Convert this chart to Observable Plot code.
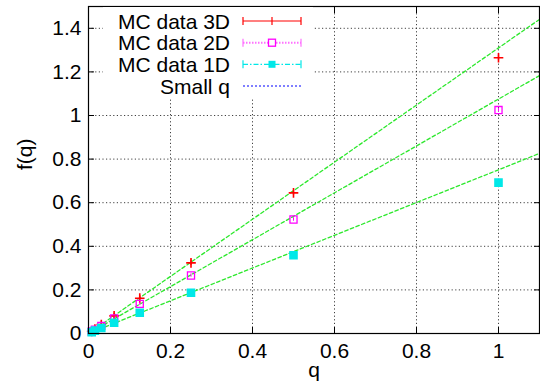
<!DOCTYPE html>
<html><head><meta charset="utf-8">
<script src="https://cdn.jsdelivr.net/npm/d3@7"></script>
<script src="https://cdn.jsdelivr.net/npm/@observablehq/plot@0.6"></script>
<style>body{margin:0;background:#fff}</style>
</head><body><div id="chart"></div>
<script>
// ---- data ----
const qValues = [1, 0.5, 0.25, 0.125, 0.0625, 0.03125, 0.015625, 0.0078125];
const f3D = [1.265, 0.645, 0.324, 0.162, 0.081, 0.041, 0.020, 0.010];
const f2D = [1.025, 0.523, 0.266, 0.136, 0.069, 0.035, 0.018, 0.009];
const f1D = [0.692, 0.359, 0.187, 0.095, 0.049, 0.025, 0.013, 0.006];
// small-q straight lines (endpoints)
const lineQ = [0, 1.1];
const small3D = [0, 1.441];
const small2D = [0, 1.183];
const small1D = [0, 0.826];
const xTicks = [0, 0.2, 0.4, 0.6, 0.8, 1];
const yTicks = [0, 0.2, 0.4, 0.6, 0.8, 1, 1.2, 1.4];
const seriesNames = ["MC data 3D", "MC data 2D", "MC data 1D", "Small q"];
const seriesColors = ["#ff0000", "#ff00ff", "#00e8e8", "#0000ff"];
const fitColor = "#2de82d";

const pts3 = qValues.map((q, i) => ({q, f: f3D[i]}));
const pts2 = qValues.map((q, i) => ({q, f: f2D[i]}));
const pts1 = qValues.map((q, i) => ({q, f: f1D[i]}));
const fitLines = [small3D, small2D, small1D].flatMap((vals, k) =>
  lineQ.map((q, i) => ({k, q, f: vals[i]})));

const FONT = "'Liberation Sans', Arial, Helvetica, sans-serif";
const FS = 21;
const grid = {stroke: "#000", strokeOpacity: 0.75, strokeDasharray: "1.2,2.4", strokeWidth: 1};
const noText = () => "";

const plot = Plot.plot({
  width: 540, height: 392,
  marginLeft: 88, marginRight: 1, marginTop: 6, marginBottom: 59,
  style: {fontFamily: FONT, fontSize: FS + "px", background: "#fff", color: "#000"},
  x: {domain: [0, 1.1]},
  y: {domain: [0, 1.5]},
  marks: [
    Plot.gridX({ticks: xTicks, ...grid}),
    Plot.gridY({ticks: yTicks, ...grid}),
    Plot.axisX({ticks: xTicks, tickSize: 0, tickPadding: 10, label: null, fontSize: FS, tickFormat: d => String(d)}),
    Plot.axisY({ticks: yTicks, tickSize: 0, tickPadding: 7, label: null, fontSize: FS, tickFormat: d => String(d)}),
    // inward tick marks on all four sides
    Plot.axisX({ticks: xTicks, anchor: "bottom", tickSize: 6, dy: -6, tickFormat: noText, label: null}),
    Plot.axisX({ticks: xTicks, anchor: "top", tickSize: 6, dy: 6, tickFormat: noText, label: null}),
    Plot.axisY({ticks: yTicks, anchor: "left", tickSize: 6, dx: 6, tickFormat: noText, label: null}),
    Plot.axisY({ticks: yTicks, anchor: "right", tickSize: 6, dx: -6, tickFormat: noText, label: null}),
    Plot.line(fitLines, {x: "q", y: "f", z: "k", stroke: fitColor, strokeWidth: 1.3, strokeDasharray: "3.5,2.5"}),
    Plot.ruleX(pts3, {x: "q", y1: d => d.f - 0.012, y2: d => d.f + 0.012, stroke: seriesColors[0], strokeWidth: 1.2}),
    Plot.dot(pts3, {x: "q", y: "f", symbol: "plus", r: 3.2, stroke: seriesColors[0], strokeWidth: 1.6}),
    Plot.dot(pts2, {x: "q", y: "f", symbol: "square", r: 4, stroke: seriesColors[1], strokeWidth: 1.3, fill: "none"}),
    Plot.ruleX(pts2, {x: "q", y1: d => d.f - 0.008, y2: d => d.f + 0.008, stroke: seriesColors[1], strokeWidth: 1}),
    Plot.dot(pts1, {x: "q", y: "f", symbol: "square", r: 4, fill: seriesColors[2], stroke: seriesColors[2]}),
    Plot.frame({stroke: "#000", strokeWidth: 1.2}),
    Plot.text(["q"], {frameAnchor: "bottom", dy: 43, text: d => d, fontSize: FS}),
    Plot.text(["f(q)"], {frameAnchor: "left", dx: -63, rotate: -90, text: d => d, fontSize: FS})
  ]
});
document.getElementById("chart").appendChild(plot);

// ---- legend (inside plot, top-left, opaque) ----
const svg = d3.select(plot);
const lg = svg.append("g");
lg.append("rect").attr("x", 103).attr("y", 7).attr("width", 210).attr("height", 91).attr("fill", "#fff");
const rowY = [21, 42.7, 64.3, 86];
const x0 = 243, x1 = 301, xm = 272;
const dashes = [null, "1.5,1.5", "5,2,1.5,2", "2,2"];
seriesNames.forEach((name, i) => {
  const y = rowY[i];
  const col = i === 1 ? "#ff70ff" : seriesColors[i];
  lg.append("text").attr("x", 230).attr("y", y).attr("dy", "0.36em")
    .attr("text-anchor", "end").attr("font-family", FONT).attr("font-size", FS).text(name);
  const ln = lg.append("line").attr("x1", x0).attr("x2", x1).attr("y1", y).attr("y2", y)
    .attr("stroke", col).attr("stroke-width", i === 1 ? 2 : 1.2);
  if (dashes[i]) ln.attr("stroke-dasharray", dashes[i]);
  if (i < 3) {
    [x0, x1].forEach(x => lg.append("line").attr("x1", x).attr("x2", x).attr("y1", y - 4).attr("y2", y + 4)
      .attr("stroke", col).attr("stroke-width", 1.2));
  }
  if (i === 0) lg.append("line").attr("x1", xm).attr("x2", xm).attr("y1", y - 4).attr("y2", y + 4).attr("stroke", seriesColors[0]).attr("stroke-width", 1.2);
  if (i === 1) lg.append("rect").attr("x", xm - 3.5).attr("y", y - 3.5).attr("width", 7).attr("height", 7).attr("fill", "#fff").attr("stroke", seriesColors[1]).attr("stroke-width", 1.3);
  if (i === 2) lg.append("rect").attr("x", xm - 3.5).attr("y", y - 3.5).attr("width", 7).attr("height", 7).attr("fill", seriesColors[2]);
});
</script>
</body></html>
